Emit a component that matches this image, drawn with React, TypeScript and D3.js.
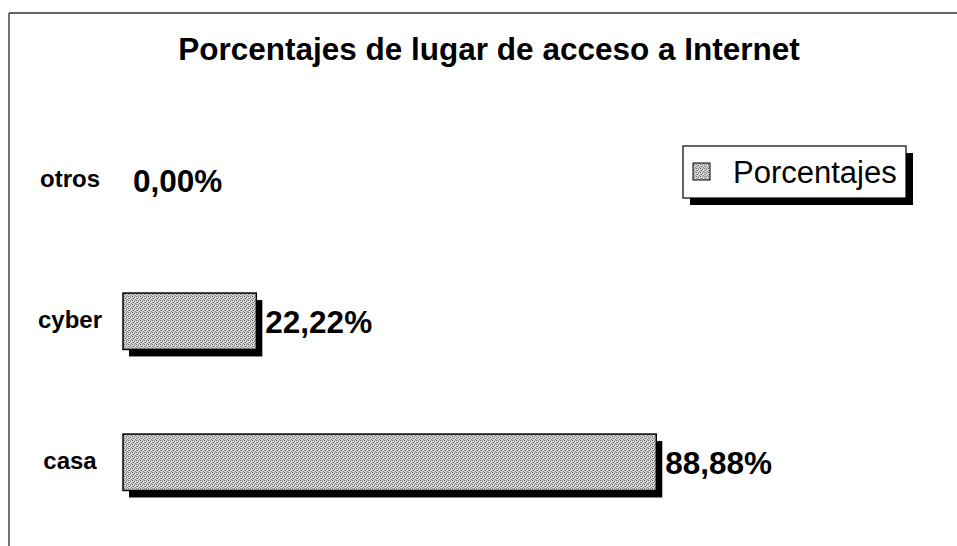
import React from "react";
import * as d3 from "d3";

const categories = ["otros", "cyber", "casa"];
const values = [0, 22.22, 88.88];
const valueLabels = ["0,00%", "22,22%", "88,88%"];
const seriesName = "Porcentajes";
const title = "Porcentajes de lugar de acceso a Internet";

const W = 957;
const H = 546;
const FONT = "'Liberation Sans', Arial, Helvetica, sans-serif";

export default function App() {
  const x = d3.scaleLinear().domain([0, 100]).range([123, 723]);
  const y = d3
    .scaleBand<string>()
    .domain(categories)
    .range([81.5, 561])
    .paddingInner(0.6)
    .paddingOuter(0.5);
  const bw = y.bandwidth();

  return (
    <svg
      width={W}
      height={H}
      style={{ position: "absolute", left: 0, top: 0, background: "#fff" }}
      fontFamily={FONT}
    >
      <defs>
        <pattern id="dither" width="4" height="4" patternUnits="userSpaceOnUse">
          <rect width="4" height="4" fill="#d0d0d0" />
          <rect x="0" y="0" width="1" height="1" fill="#6e6e6e" />
          <rect x="2" y="1" width="1" height="1" fill="#7e7e7e" />
          <rect x="1" y="2" width="1" height="1" fill="#6e6e6e" />
          <rect x="3" y="3" width="1" height="1" fill="#7e7e7e" />
          <rect x="2" y="0" width="1" height="1" fill="#a4a4a4" />
          <rect x="0" y="2" width="1" height="1" fill="#9c9c9c" />
          <rect x="1" y="1" width="1" height="1" fill="#f0f0f0" />
          <rect x="3" y="2" width="1" height="1" fill="#f0f0f0" />
        </pattern>
      </defs>

      {/* chart area border (top and left visible) */}
      <line x1={9} y1={13} x2={W} y2={13} stroke="#333" strokeWidth={1.5} />
      <line x1={9} y1={13} x2={9} y2={H} stroke="#444" strokeWidth={1.5} />

      <text
        x={489}
        y={60}
        textAnchor="middle"
        fontWeight="bold"
        fontSize={31.5}
        fill="#000"
      >
        {title}
      </text>

      {categories.map((c, i) => {
        const v = values[i];
        const y0 = y(c)!;
        const cy = y0 + bw / 2;
        const w = x(v) - x(0);
        return (
          <g key={c}>
            <text
              x={70}
              y={cy + 7}
              textAnchor="middle"
              fontWeight="bold"
              fontSize={24}
              fill="#000"
            >
              {c}
            </text>
            {v > 0 && (
              <>
                <rect x={x(0) + 6} y={y0 + 7} width={w} height={bw} fill="#000" />
                <rect
                  x={x(0)}
                  y={y0}
                  width={w}
                  height={bw}
                  fill="url(#dither)"
                  stroke="#000"
                  strokeWidth={1.5}
                />
              </>
            )}
            <text
              x={x(v) + (v > 0 ? 9 : 10)}
              y={cy + 12}
              fontWeight="bold"
              fontSize={31.5}
              fill="#000"
            >
              {valueLabels[i]}
            </text>
          </g>
        );
      })}

      {/* legend */}
      <g>
        <rect x={690} y={153} width={223} height={52} fill="#000" />
        <rect x={683} y={146} width={223} height={52} fill="#fff" stroke="#000" strokeWidth={1.2} />
        <rect x={693} y={163} width={17} height={17} fill="url(#dither)" stroke="#000" strokeWidth={1} />
        <text x={733} y={183} fontSize={31} fill="#000">
          {seriesName}
        </text>
      </g>
    </svg>
  );
}
